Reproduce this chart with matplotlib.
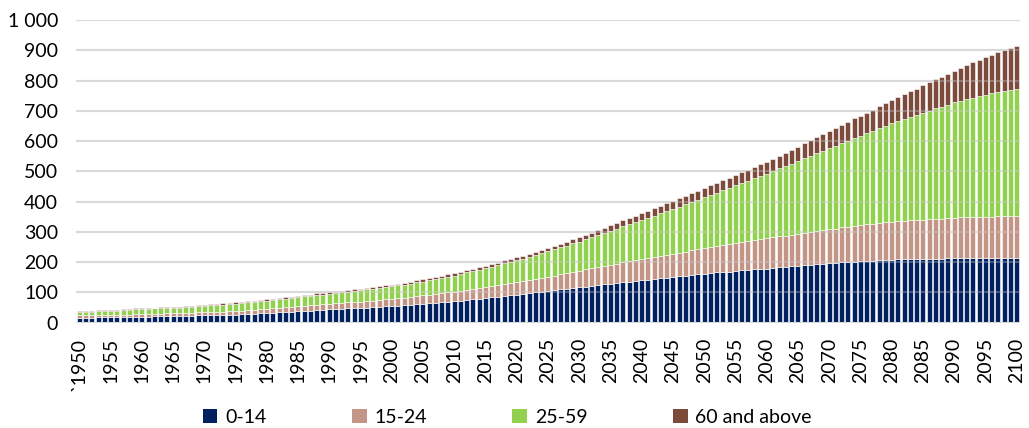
import numpy as np
import matplotlib
matplotlib.use("Agg")
import matplotlib.pyplot as plt
from matplotlib.patches import Patch

plt.rcParams['font.family'] = ['Lato', 'DejaVu Sans']

# population by age group, millions, 1950-2100
years = list(range(1950, 2101))

age_0_14 = [
    17, 17, 17, 18, 18, 18, 18, 19, 19, 20,
    20, 20, 21, 21, 22, 22, 22, 23, 23, 24,
    24, 25, 25, 26, 26, 27, 28, 29, 30, 31,
    32, 33, 34, 36, 37, 38, 39, 40, 42, 43,
    44, 45, 46, 47, 48, 49, 50, 51, 53, 54,
    55, 56, 58, 59, 61, 62, 64, 66, 67, 69,
    71, 73, 75, 78, 80, 82, 84, 86, 89, 91,
    93, 95, 98, 100, 103, 105, 107, 110, 112, 115,
    117, 119, 122, 124, 127, 129, 131, 133, 136, 138,
    140, 142, 144, 147, 149, 151, 153, 155, 158, 160,
    162, 164, 166, 167, 169, 171, 173, 174, 176, 177,
    179, 181, 183, 184, 186, 188, 190, 191, 193, 194,
    196, 197, 199, 200, 202, 203, 204, 205, 206, 207,
    208, 209, 209, 210, 210, 211, 211, 212, 212, 213,
    213, 213, 213, 214, 214, 214, 214, 214, 215, 215,
    215,
]

age_15_24 = [
    7, 7, 7, 7, 7, 7, 7, 8, 8, 8,
    8, 8, 8, 9, 9, 9, 9, 9, 10, 10,
    10, 10, 11, 11, 12, 12, 12, 13, 13, 14,
    14, 14, 15, 15, 16, 16, 17, 17, 18, 18,
    19, 19, 20, 20, 21, 21, 22, 22, 23, 23,
    24, 25, 25, 26, 27, 28, 29, 29, 30, 31,
    32, 33, 34, 34, 35, 36, 37, 38, 39, 40,
    41, 42, 43, 45, 46, 47, 49, 50, 52, 53,
    55, 57, 58, 60, 61, 63, 64, 66, 67, 69,
    70, 71, 73, 74, 76, 77, 79, 80, 82, 83,
    85, 87, 88, 90, 91, 93, 94, 96, 97, 99,
    100, 101, 103, 104, 105, 106, 108, 109, 110, 112,
    113, 114, 116, 117, 119, 120, 121, 122, 124, 125,
    126, 127, 128, 128, 129, 130, 131, 132, 132, 133,
    134, 135, 135, 136, 136, 137, 137, 138, 138, 138,
    138,
]

age_25_59 = [
    12, 13, 13, 14, 14, 15, 15, 16, 16, 17,
    17, 17, 18, 18, 19, 19, 19, 20, 20, 21,
    21, 22, 22, 23, 23, 24, 25, 25, 26, 26,
    27, 28, 28, 29, 29, 30, 31, 31, 32, 32,
    33, 34, 35, 35, 36, 37, 38, 39, 39, 40,
    41, 42, 43, 44, 45, 46, 47, 49, 50, 52,
    53, 55, 57, 58, 60, 62, 64, 66, 69, 71,
    73, 75, 77, 80, 82, 84, 86, 89, 91, 94,
    96, 99, 102, 106, 109, 112, 116, 119, 123, 126,
    130, 134, 137, 141, 144, 148, 152, 156, 160, 163,
    167, 172, 176, 181, 185, 190, 195, 199, 204, 208,
    213, 219, 224, 230, 235, 241, 246, 252, 257, 263,
    268, 273, 279, 284, 290, 295, 301, 307, 313, 319,
    325, 331, 336, 342, 347, 353, 359, 364, 370, 375,
    381, 385, 390, 394, 399, 403, 407, 410, 414, 417,
    421,
]

age_60_plus = [
    3, 3, 3, 3, 3, 3, 3, 3, 3, 3,
    3, 3, 3, 3, 3, 3, 3, 3, 3, 4,
    4, 4, 4, 4, 4, 4, 4, 4, 4, 4,
    4, 4, 4, 4, 4, 4, 4, 5, 5, 5,
    5, 5, 5, 5, 5, 6, 6, 6, 6, 6,
    6, 6, 6, 7, 7, 7, 7, 7, 8, 8,
    8, 8, 8, 8, 8, 8, 8, 8, 9, 9,
    9, 9, 9, 10, 10, 10, 11, 12, 12, 13,
    14, 15, 16, 16, 17, 18, 19, 20, 20, 21,
    22, 23, 24, 24, 25, 26, 27, 28, 28, 29,
    30, 31, 32, 32, 33, 34, 35, 36, 38, 39,
    40, 41, 42, 44, 45, 47, 49, 51, 53, 55,
    57, 59, 61, 63, 64, 66, 68, 70, 72, 74,
    77, 80, 82, 85, 88, 91, 94, 96, 99, 102,
    105, 109, 113, 116, 120, 124, 128, 131, 135, 138,
    142,
]

series = [
    ("0-14", age_0_14, "#002060"),
    ("15-24", age_15_24, "#c39587"),
    ("25-59", age_25_59, "#92d050"),
    ("60 and above", age_60_plus, "#7d4b3c"),
]

tick_years = list(range(1950, 2101, 5))
tick_labels = ["`1950"] + [str(y) for y in tick_years[1:]]

fig = plt.figure(figsize=(10.29, 4.28), dpi=100)
ax = fig.add_axes([0.074, 0.246, 0.917, 0.707])

bottom = np.zeros(len(years))
handles = []
for name, vals, color in series:
    vals = np.array(vals, dtype=float)
    ax.bar(years, vals, bottom=bottom, width=0.8, color=color,
           edgecolor="white", linewidth=0.4, zorder=2)
    bottom += vals
    handles.append(Patch(facecolor=color, label=name))

# light gridlines, faintly showing through the bars as in the original
ax.set_axisbelow(True)
ax.grid(axis="y", color="#d9d9d9", linewidth=1.5)
ax.hlines(np.arange(100, 1001, 100), 1949.5, 2100.5, color="#d9d9d9",
          linewidth=1.5, alpha=0.3, zorder=3)
ax.axhline(0, color="#d9d9d9", linewidth=1.5, zorder=3)

ax.set_xlim(1949.5, 2100.5)
ax.set_ylim(0, 1000)
ax.set_yticks(range(0, 1001, 100))
ax.set_yticklabels([f"{v:,}".replace(",", " ") for v in range(0, 1001, 100)])
ax.set_xticks(tick_years)
ax.set_xticklabels(tick_labels, rotation=90, va="top", ha="center")
ax.tick_params(axis="both", length=0, labelsize=14, colors="black")
ax.tick_params(axis="y", pad=13)
ax.tick_params(axis="x", pad=11)
for s in ax.spines.values():
    s.set_visible(False)

fig.legend(handles=handles, loc="center", bbox_to_anchor=(0.493, 0.025),
           ncol=4, frameon=False, fontsize=14, handlelength=0.75,
           handleheight=0.75, handletextpad=0.4, columnspacing=4.4)

fig.savefig("out.png", dpi=100)
